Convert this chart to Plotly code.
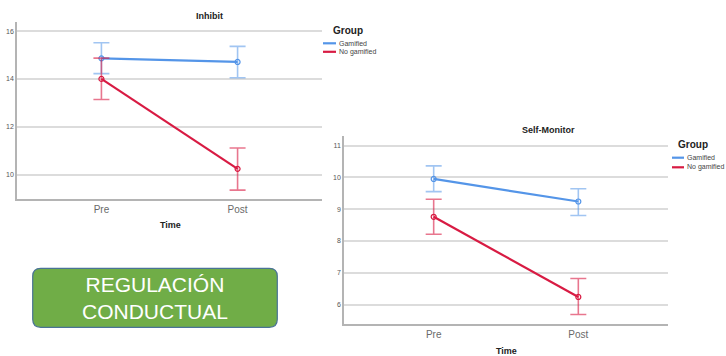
import plotly.graph_objects as go

W, H = 726, 356

# ---- data -------------------------------------------------------------
times = ["Pre", "Post"]
groups = ["Gamified", "No gamified"]

inhibit_mean = {"Gamified": [14.86, 14.71], "No gamified": [14.00, 10.24]}
inhibit_hi = {"Gamified": [15.51, 15.36], "No gamified": [14.87, 11.11]}
inhibit_lo = {"Gamified": [14.22, 14.05], "No gamified": [13.14, 9.35]}

selfmon_mean = {"Gamified": [9.95, 9.24], "No gamified": [8.76, 6.24]}
selfmon_hi = {"Gamified": [10.36, 9.64], "No gamified": [9.31, 6.82]}
selfmon_lo = {"Gamified": [9.55, 8.80], "No gamified": [8.21, 5.69]}

inhibit_ticks = [10, 12, 14, 16]
selfmon_ticks = [6, 7, 8, 9, 10, 11]

line_colors = {"Gamified": "#5495E8", "No gamified": "#D81B43"}
bar_colors = {"Gamified": "rgba(84,149,232,0.55)", "No gamified": "rgba(216,27,67,0.6)"}

FONT = "Liberation Sans, Arial, sans-serif"


def px(x):
    return x / W


def py(y):
    return 1 - y / H


fig = go.Figure()


def add_panel(means, his, los, xa, ya):
    for g in groups:
        m = means[g]
        fig.add_trace(go.Scatter(
            x=times, y=m, name=g, mode="lines+markers",
            xaxis=xa, yaxis=ya, showlegend=False,
            line=dict(color=line_colors[g], width=2.2),
            marker=dict(symbol="circle-open", size=5, color=line_colors[g], line=dict(width=1.2)),
            error_y=dict(type="data", symmetric=False,
                         array=[h - v for h, v in zip(his[g], m)],
                         arrayminus=[v - l for v, l in zip(m, los[g])],
                         color=bar_colors[g], thickness=1.6, width=8),
        ))


add_panel(inhibit_mean, inhibit_hi, inhibit_lo, "x", "y")
add_panel(selfmon_mean, selfmon_hi, selfmon_lo, "x2", "y2")

axis_common = dict(showline=True, linecolor="#B4B4B4", linewidth=1.5,
                   zeroline=False, ticks="")
xcommon = dict(axis_common, type="category", range=[-0.62, 1.62], showgrid=False,
               tickfont=dict(family=FONT, size=10, color="#6A6A6A"))
ycommon = dict(axis_common, showgrid=True, gridcolor="#DCDCDC", gridwidth=1.5,
               tickfont=dict(family=FONT, size=7, color="#555555"))

fig.update_layout(
    width=W, height=H, margin=dict(l=0, r=0, t=0, b=0),
    paper_bgcolor="white", plot_bgcolor="white",
    xaxis=dict(xcommon, domain=[px(17), px(322)], anchor="y"),
    yaxis=dict(ycommon, domain=[py(199), py(22)], anchor="x",
               range=[8.98, 16.38], tickvals=inhibit_ticks),
    xaxis2=dict(xcommon, domain=[px(344), px(668)], anchor="y2"),
    yaxis2=dict(ycommon, domain=[py(324.3), py(136)], anchor="x2",
                range=[5.38, 11.3], tickvals=selfmon_ticks),
)

ann = []
shapes = []


def text(x, y, s, size, bold=False, color="#222222", xanchor="center"):
    ann.append(dict(x=px(x), y=py(y), xref="paper", yref="paper", text=f"<b>{s}</b>" if bold else s,
                    showarrow=False, xanchor=xanchor, yanchor="middle",
                    font=dict(family=FONT, size=size, color=color)))


# titles and axis labels
text(210, 16, "Inhibit", 9, bold=True)
text(170, 225, "Time", 9, bold=True)
text(548.7, 130, "Self-Monitor", 9, bold=True)
text(506.7, 350.5, "Time", 9, bold=True)


# legends
def legend(x0, x1, ys, title_x, title_y):
    text(title_x, title_y, "Group", 10, bold=True)
    for g, y in zip(groups, ys):
        shapes.append(dict(type="line", xref="paper", yref="paper",
                           x0=px(x0), x1=px(x1), y0=py(y), y1=py(y),
                           line=dict(color=line_colors[g], width=2.2)))
        text(x1 + 1.2, y, g, 7, color="#444444", xanchor="left")


legend(323, 336, [43.3, 51.8], 348, 30.3)
legend(672, 684, [157.7, 167.3], 693, 145)

# rounded green label box
bx0, bx1, by0, by1, r = 32.7, 277.3, 268.3, 327.3, 8
rx, ry = r / W, r / H
X0, X1, Yt, Yb = px(bx0), px(bx1), py(by0), py(by1)
path = (f"M {X0+rx},{Yt} L {X1-rx},{Yt} Q {X1},{Yt} {X1},{Yt-ry} "
        f"L {X1},{Yb+ry} Q {X1},{Yb} {X1-rx},{Yb} "
        f"L {X0+rx},{Yb} Q {X0},{Yb} {X0},{Yb+ry} "
        f"L {X0},{Yt-ry} Q {X0},{Yt} {X0+rx},{Yt} Z")
shapes.append(dict(type="path", xref="paper", yref="paper", path=path,
                   fillcolor="#70AD47", line=dict(color="#4A7396", width=1.2)))
ann.append(dict(x=px((bx0 + bx1) / 2), y=py(297.5), xref="paper", yref="paper",
                text="REGULACIÓN<br>CONDUCTUAL", showarrow=False,
                xanchor="center", yanchor="middle",
                font=dict(family=FONT, size=21, color="white")))

fig.update_layout(annotations=ann, shapes=shapes)
fig.write_html("out.html")
